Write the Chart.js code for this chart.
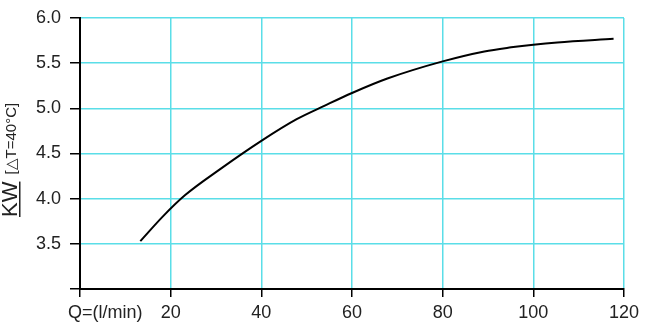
<!DOCTYPE html>
<html>
<head>
    <title>KW curve</title>
    <script src="https://cdn.jsdelivr.net/npm/chart.js"></script>
    <style>
        body { margin: 0; background: #fff; }
    </style>
</head>
<body>
    <canvas id="myChart" width="646" height="323"></canvas>

    <script>
        // flow (l/min) and power (KW)
        var flow  = [13.3, 18.4, 23.2, 31, 40, 47.8, 54, 60, 67.8, 80, 89.2, 95.1, 100, 105.3, 117.7];
        var power = [3.53, 3.81, 4.04, 4.33, 4.64, 4.88, 5.03, 5.17, 5.33, 5.52, 5.63, 5.675, 5.705, 5.73, 5.77];

        var xTicks = [0, 20, 40, 60, 80, 100, 120];
        var yTicks = [3.0, 3.5, 4.0, 4.5, 5.0, 5.5, 6.0];

        var xLabel = 'Q=(l/min)';
        var yTitle = 'KW';
        var yNote = '[\u25B3T=40\u00B0C]';

        var font = "'Liberation Sans', Arial, sans-serif";
        var gridColor = 'rgb(90, 222, 232)';
        var textColor = '#222';

        var points = flow.map(function (q, i) { return { x: q, y: power[i] }; });

        // draws the axis captions that don't fit Chart.js's own title layout
        var captions = {
            id: 'captions',
            afterDraw: function (chart) {
                var ctx = chart.ctx;
                ctx.save();
                ctx.fillStyle = textColor;
                ctx.font = '18px ' + font;
                ctx.textBaseline = 'middle';
                ctx.textAlign = 'left';
                ctx.fillText(xLabel, 68, 313);

                ctx.translate(17, 217);
                ctx.rotate(-Math.PI / 2);
                ctx.textBaseline = 'alphabetic';
                ctx.font = '22px ' + font;
                ctx.fillText(yTitle, 0, 0);
                var w = ctx.measureText(yTitle).width;
                ctx.fillRect(0, 2, w, 1.5);
                ctx.font = '15px ' + font;
                ctx.fillText(yNote, w + 7, -1);
                ctx.restore();
            }
        };

        var ctx = document.getElementById('myChart').getContext('2d');
        var myChart = new Chart(ctx, {
            type: 'line',
            data: {
                datasets: [{
                    data: points,
                    borderColor: '#000',
                    borderWidth: 2,
                    pointRadius: 0,
                    cubicInterpolationMode: 'monotone',
                    fill: false
                }]
            },
            options: {
                responsive: false,
                animation: false,
                layout: { padding: { top: 17, right: 22, left: 0, bottom: 0 } },
                plugins: {
                    legend: { display: false },
                    tooltip: { enabled: false }
                },
                scales: {
                    x: {
                        type: 'linear',
                        min: 0,
                        max: 120,
                        afterFit: function (s) { s.height = 34; },
                        afterBuildTicks: function (s) {
                            s.ticks = xTicks.map(function (v) { return { value: v }; });
                        },
                        ticks: {
                            color: textColor,
                            font: { family: font, size: 18 },
                            padding: 5,
                            maxRotation: 0,
                            callback: function (v) { return v === 0 ? '' : v; }
                        },
                        grid: {
                            color: gridColor,
                            lineWidth: 1.5,
                            tickColor: '#000',
                            tickLength: 8,
                            tickWidth: 1.5
                        },
                        border: { color: '#000', width: 2 }
                    },
                    y: {
                        min: 3,
                        max: 6,
                        afterFit: function (s) { s.width = 80; },
                        afterBuildTicks: function (s) {
                            s.ticks = yTicks.map(function (v) { return { value: v }; });
                        },
                        ticks: {
                            color: textColor,
                            font: { family: font, size: 18, lineHeight: 1 },
                            padding: 9,
                            callback: function (v) { return v === 3 ? '' : v.toFixed(1); }
                        },
                        grid: {
                            color: gridColor,
                            lineWidth: 1.5,
                            tickColor: '#000',
                            tickLength: 10,
                            tickWidth: 1.5
                        },
                        border: { color: '#000', width: 2 }
                    }
                }
            },
            plugins: [captions]
        });
    </script>
</body>
</html>
